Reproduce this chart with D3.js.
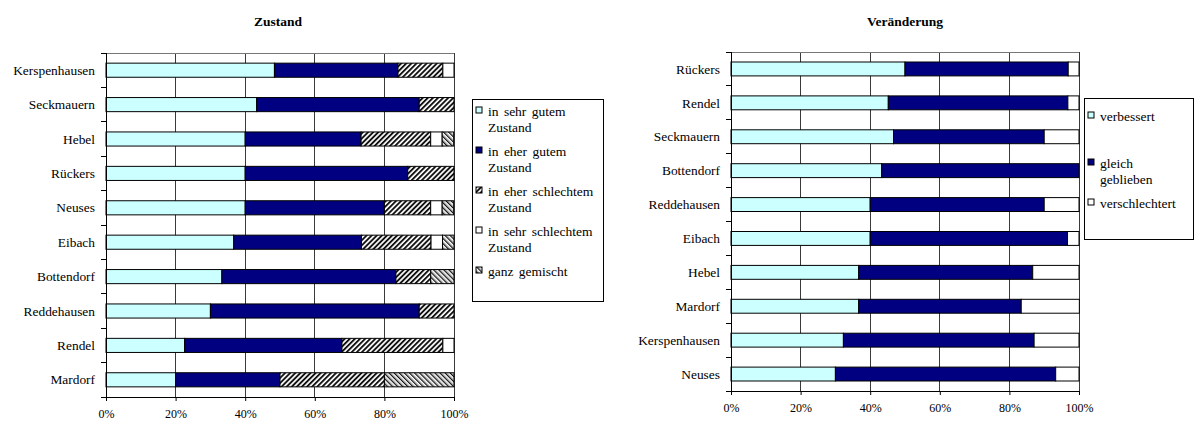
<!DOCTYPE html>
<html>
<head>
<meta charset="utf-8">
<script src="https://cdn.jsdelivr.net/npm/d3@7"></script>
<style>
  html, body { margin: 0; padding: 0; background: #fff; }
  svg { display: block; }
</style>
</head>
<body>
<svg id="chart" width="1195" height="425"></svg>
<script>
// ---- Zustand (condition) ----
const zustandOrte = ["Kerspenhausen", "Seckmauern", "Hebel", "Rückers", "Neuses", "Eibach", "Bottendorf", "Reddehausen", "Rendel", "Mardorf"];
const sehrGut      = [48.4, 43.3, 40.0, 40.0, 40.0, 36.7, 33.3, 30.0, 22.6, 20.0];
const eherGut      = [35.5, 46.7, 33.3, 46.7, 40.0, 36.7, 50.0, 60.0, 45.2, 30.0];
const eherSchlecht = [12.9, 10.0, 20.0, 13.3, 13.3, 20.0, 10.0, 10.0, 29.0, 30.0];
const sehrSchlecht = [3.2, 0, 3.3, 0, 3.3, 3.3, 0, 0, 3.2, 0];
const ganzGemischt = [0, 0, 3.3, 0, 3.3, 3.3, 6.7, 0, 0, 20.0];
const zustandLegend = [["in sehr gutem", "Zustand"], ["in eher gutem", "Zustand"], ["in eher schlechtem", "Zustand"], ["in sehr schlechtem", "Zustand"], ["ganz gemischt"]];

// ---- Veränderung (change) ----
const veraenderungOrte = ["Rückers", "Rendel", "Seckmauern", "Bottendorf", "Reddehausen", "Eibach", "Hebel", "Mardorf", "Kerspenhausen", "Neuses"];
const verbessert     = [50.0, 45.2, 46.7, 43.3, 40.0, 40.0, 36.7, 36.7, 32.3, 30.0];
const gleich         = [46.9, 51.6, 43.3, 56.7, 50.0, 56.7, 50.0, 46.7, 54.8, 63.3];
const verschlechtert = [3.1, 3.2, 10.0, 0, 10.0, 3.3, 13.3, 16.7, 12.9, 6.7];
const veraenderungLegend = [["verbessert"], ["gleich", "geblieben"], ["verschlechtert"]];

const tickValues = [0, 20, 40, 60, 80, 100];

const FONT = "Liberation Serif";
const svg = d3.select("#chart");
const defs = svg.append("defs");

// hatch fills
function hatch(id, angle, size, stripes) {
  const p = defs.append("pattern")
    .attr("id", id).attr("patternUnits", "userSpaceOnUse")
    .attr("width", size).attr("height", size)
    .attr("patternTransform", `rotate(${angle})`);
  p.append("rect").attr("width", size).attr("height", size).attr("fill", "#fff");
  stripes.forEach(s => p.append("rect").attr("x", s.x).attr("y", 0)
    .attr("width", s.w).attr("height", size).attr("fill", s.c));
}
hatch("hatchSchlecht", 45, 3.6, [{x: 0, w: 1.9, c: "#111"}]);
hatch("hatchGemischt", -45, 3.6, [{x: 0, w: 1.3, c: "#111"}, {x: 1.3, w: 0.9, c: "#999"}]);

function drawChart(cfg) {
  const g = svg.append("g").attr("font-family", FONT).attr("fill", "#000");
  const x = d3.scaleLinear().domain([0, 100]).range([cfg.x0, cfg.x1]);
  const y = d3.scaleBand().domain(cfg.cats).range([cfg.y0, cfg.y1])
    .paddingInner(0.59).paddingOuter(0.295);

  // title
  g.append("text").attr("x", cfg.titleX).attr("y", 26)
    .attr("text-anchor", "middle").attr("font-weight", "bold")
    .attr("font-family", FONT).attr("font-size", 13.5).text(cfg.title);

  // vertical gridlines
  g.append("g").selectAll("line").data(tickValues.slice(1)).join("line")
    .attr("x1", d => x(d)).attr("x2", d => x(d))
    .attr("y1", cfg.y0).attr("y2", cfg.y1)
    .attr("stroke", "#3a3a3a").attr("stroke-width", 1)
    .attr("shape-rendering", "crispEdges");
  g.append("line").attr("x1", cfg.x0).attr("x2", cfg.x1).attr("y1", cfg.y0).attr("y2", cfg.y0)
    .attr("stroke", "#777").attr("shape-rendering", "crispEdges");

  // stacked bars
  const rows = cfg.cats.map((c, i) => {
    const r = {cat: c};
    cfg.series.forEach(s => r[s.key] = s.values[i]);
    return r;
  });
  const stack = d3.stack().keys(cfg.series.map(s => s.key))(rows);
  stack.forEach((layer, li) => {
    g.append("g").selectAll("rect").data(layer.filter(d => d[1] - d[0] > 0)).join("rect")
      .attr("x", d => x(d[0])).attr("width", d => x(d[1]) - x(d[0]))
      .attr("y", d => y(d.data.cat)).attr("height", y.bandwidth())
      .attr("fill", cfg.series[li].fill)
      .attr("stroke", "#000").attr("stroke-width", 1);
  });

  // x axis
  const xAxis = d3.axisBottom(x).tickValues(tickValues).tickFormat(d => d + "%")
    .tickSize(4).tickSizeOuter(0);
  const xa = g.append("g").attr("transform", `translate(0,${cfg.y1})`).call(xAxis);
  xa.attr("font-family", FONT);
  xa.select(".domain").attr("stroke", "#000");
  xa.selectAll(".tick line").attr("stroke", "#000");
  xa.selectAll("text").attr("font-family", FONT).attr("font-size", 12)
    .attr("fill", "#000").attr("dy", "1.2em");

  // category axis with ticks on band boundaries
  g.append("line").attr("x1", cfg.x0).attr("x2", cfg.x0).attr("y1", cfg.y0).attr("y2", cfg.y1)
    .attr("stroke", "#000").attr("shape-rendering", "crispEdges");
  const step = y.step();
  g.append("g").selectAll("line").data(d3.range(cfg.cats.length + 1)).join("line")
    .attr("x1", cfg.x0 - 5).attr("x2", cfg.x0)
    .attr("y1", i => cfg.y0 + i * step).attr("y2", i => cfg.y0 + i * step)
    .attr("stroke", "#000").attr("shape-rendering", "crispEdges");
  g.append("g").selectAll("text").data(cfg.cats).join("text")
    .attr("x", cfg.x0 - 11).attr("y", d => y(d) + y.bandwidth() / 2)
    .attr("dy", "0.35em").attr("text-anchor", "end")
    .attr("font-family", FONT).attr("font-size", 13.4)
    .text(d => d);

  // legend
  const L = cfg.legend;
  g.append("rect").attr("x", L.x).attr("y", L.y).attr("width", L.w).attr("height", L.h)
    .attr("fill", "#fff").attr("stroke", "#000").attr("shape-rendering", "crispEdges");
  cfg.series.forEach((s, i) => {
    const by = L.y + L.itemY[i];
    g.append("rect").attr("x", L.x + 3.5).attr("y", by - 8.5).attr("width", 6).attr("height", 6)
      .attr("fill", s.fill).attr("stroke", "#000").attr("stroke-width", 1);
    const t = g.append("text").attr("x", L.x + 15.5).attr("y", by)
      .attr("font-family", FONT).attr("font-size", 13.5).attr("word-spacing", 2);
    s.label.forEach((line, k) => t.append("tspan").attr("x", L.x + 15.5).attr("dy", k ? 16.5 : 0).text(line));
  });
}

drawChart({
  title: "Zustand", titleX: 278,
  cats: zustandOrte,
  x0: 106, x1: 454, y0: 53, y1: 397,
  series: [
    {key: "sehrGut", values: sehrGut, fill: "#ccffff", label: zustandLegend[0]},
    {key: "eherGut", values: eherGut, fill: "#000080", label: zustandLegend[1]},
    {key: "eherSchlecht", values: eherSchlecht, fill: "url(#hatchSchlecht)", label: zustandLegend[2]},
    {key: "sehrSchlecht", values: sehrSchlecht, fill: "#ffffff", label: zustandLegend[3]},
    {key: "ganzGemischt", values: ganzGemischt, fill: "url(#hatchGemischt)", label: zustandLegend[4]}
  ],
  legend: {x: 472.5, y: 99.5, w: 131, h: 202, itemY: [16, 56, 96, 136, 176]}
});

drawChart({
  title: "Veränderung", titleX: 905,
  cats: veraenderungOrte,
  x0: 731, x1: 1079, y0: 52, y1: 391,
  series: [
    {key: "verbessert", values: verbessert, fill: "#ccffff", label: veraenderungLegend[0]},
    {key: "gleich", values: gleich, fill: "#000080", label: veraenderungLegend[1]},
    {key: "verschlechtert", values: verschlechtert, fill: "#ffffff", label: veraenderungLegend[2]}
  ],
  legend: {x: 1084.5, y: 98.5, w: 109, h: 141, itemY: [22, 69, 109]}
});
</script>
</body>
</html>
